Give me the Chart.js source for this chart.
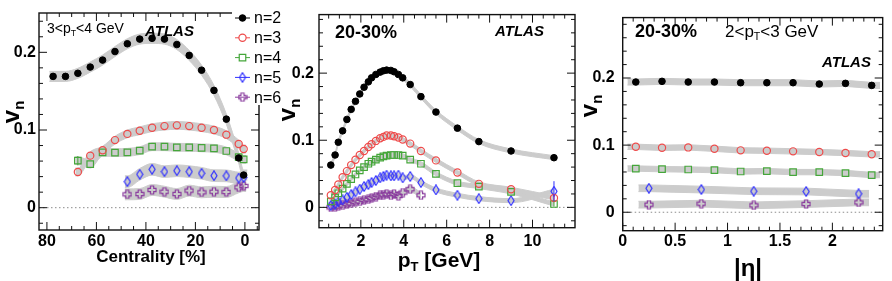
<!DOCTYPE html>
<html>
<head>
<meta charset="utf-8">
<script src="https://cdn.jsdelivr.net/npm/chart.js@4.4.1/dist/chart.umd.min.js"></script>
<style>
body { margin: 0; background: #fff; }
#wrap { position: relative; width: 892px; height: 281px; overflow: hidden; font-family: 'Liberation Sans', Arial, sans-serif; }
#wrap canvas { position: absolute; left: 0; top: 0; }
.t { position: absolute; white-space: nowrap; line-height: 1; color: #000; }
.t sub { font-size: 0.62em; vertical-align: baseline; position: relative; top: 0.32em; }
.b { font-weight: bold; }
.atlas { font-weight: bold; font-style: italic; font-size: 15px; }
.yt { font-weight: bold; font-size: 24px; transform: translate(-50%, -50%) rotate(-90deg); }
</style>
</head>
<body>
<div id="wrap">
  <canvas id="c1" width="892" height="281"></canvas>
  <canvas id="c2" width="892" height="281"></canvas>
  <canvas id="c3" width="892" height="281"></canvas>

  <div class="t" style="left:47px;top:21px;font-size:14px">3&lt;p<sub>T</sub>&lt;4 GeV</div>
  <div class="t atlas" style="left:145px;top:23px">ATLAS</div>
  <div class="t b" style="left:335px;top:23px;font-size:18px">20-30%</div>
  <div class="t atlas" style="left:495px;top:23px">ATLAS</div>
  <div class="t b" style="left:635px;top:22px;font-size:18px">20-30%</div>
  <div class="t" style="left:725px;top:23px;font-size:17px">2&lt;p<sub>T</sub>&lt;3 GeV</div>
  <div class="t atlas" style="left:822px;top:54px">ATLAS</div>

  <div class="t b" style="left:51px;width:200px;text-align:center;top:248px;font-size:17px">Centrality [%]</div>
  <div class="t b" style="left:339px;width:200px;text-align:center;top:249px;font-size:21px">p<sub>T</sub> [GeV]</div>
  <div class="t b" style="left:698px;width:100px;text-align:center;top:256px;font-size:24px">|η|</div>

  <div class="t yt" style="left:11px;top:112px">v<sub>n</sub></div>
  <div class="t yt" style="left:287px;top:110px">v<sub>n</sub></div>
  <div class="t yt" style="left:589px;top:106px">v<sub>n</sub></div>
</div>

<script>
// Panel 1: vn vs centrality, 3<pT<4 GeV
const cent = [77.5, 72.5, 67.5, 62.5, 57.5, 52.5, 47.5, 42.5, 37.5, 32.5, 27.5, 22.5, 17.5, 12.5, 7.5, 2.5, 0.5];
const centV2 = [0.169, 0.169, 0.173, 0.181, 0.19, 0.201, 0.211, 0.217, 0.218, 0.217, 0.21, 0.196, 0.177, 0.151, 0.114, 0.064, 0.042];
const centV3 = [0.046, 0.067, 0.074, 0.087, 0.095, 0.099, 0.103, 0.105, 0.106, 0.105, 0.103, 0.1, 0.094, 0.082, 0.0755];
const centV4 = [0.0605, 0.056, 0.0713, 0.071, 0.0713, 0.0734, 0.0785, 0.0785, 0.0777, 0.0777, 0.077, 0.0764, 0.073, 0.065, 0.0623];
const centV5 = [0.0335, 0.043, 0.0494, 0.0464, 0.0476, 0.0464, 0.0443, 0.0412, 0.041, 0.0382, 0.039];
const centV6 = [0.0172, 0.0176, 0.0228, 0.0206, 0.0176, 0.022, 0.0198, 0.0206, 0.0202, 0.0262, 0.028];
const centErr4 = { 67.5: 0.006 };

// Panel 2: vn vs pT, 20-30%
const pt = [0.6, 0.8, 0.95, 1.15, 1.35, 1.55, 1.75, 1.95, 2.15, 2.35, 2.5, 2.7, 2.9, 3.05, 3.2, 3.4, 3.55, 3.75, 3.95, 4.3, 4.8, 5.5, 6.5, 7.5, 9, 11];
const ptV2 = [0.063, 0.078, 0.097, 0.114, 0.131, 0.146, 0.158, 0.169, 0.179, 0.187, 0.193, 0.198, 0.2015, 0.2035, 0.2045, 0.204, 0.202, 0.198, 0.193, 0.183, 0.165, 0.142, 0.118, 0.098, 0.084, 0.074];
const ptV3 = [0.018, 0.026, 0.034, 0.045, 0.054, 0.063, 0.071, 0.078, 0.084, 0.09, 0.094, 0.099, 0.103, 0.105, 0.107, 0.107, 0.106, 0.104, 0.101, 0.095, 0.084, 0.07, 0.052, 0.035, 0.027, 0.014];
const ptV4 = [0.009, 0.015, 0.021, 0.028, 0.035, 0.042, 0.049, 0.055, 0.06, 0.065, 0.068, 0.071, 0.074, 0.076, 0.077, 0.078, 0.078, 0.078, 0.077, 0.071, 0.065, 0.05, 0.036, 0.031, 0.023, 0.005];
const ptV5 = [0.003, 0.005, 0.008, 0.011, 0.015, 0.019, 0.023, 0.027, 0.031, 0.034, 0.037, 0.04, 0.044, 0.046, 0.048, 0.047, 0.047, 0.048, 0.044, 0.046, 0.037, 0.026, 0.018, 0.013, 0.01, 0.024];
const ptV6 = [0.0, 0.001, 0.002, 0.003, 0.005, 0.006, 0.008, 0.009, 0.011, 0.012, 0.014, 0.016, 0.018, 0.019, 0.02, 0.018, 0.02, 0.017, 0.022, 0.027, 0.018];
const ptErr3 = { 11: 0.006 };
const ptErr4 = { 11: 0.004 };
const ptErr5 = { 11: 0.015 };

// Panel 3: vn vs |eta|, 20-30%, 2<pT<3 GeV
const eta = [0.125, 0.375, 0.625, 0.875, 1.125, 1.375, 1.625, 1.875, 2.125, 2.375];
const etaWide = [0.25, 0.75, 1.25, 1.75, 2.25];
const etaV2 = [0.194, 0.195, 0.194, 0.194, 0.193, 0.193, 0.193, 0.191, 0.192, 0.189];
const etaV3 = [0.0975, 0.096, 0.0966, 0.0946, 0.0922, 0.0916, 0.0907, 0.0897, 0.0882, 0.0863];
const etaV4 = [0.0651, 0.0642, 0.0637, 0.0628, 0.0607, 0.0613, 0.0598, 0.0598, 0.0584, 0.0554];
const etaV5 = [0.0357, 0.0338, 0.0313, 0.0309, 0.0275];
const etaV6 = [0.0113, 0.0128, 0.0103, 0.0122, 0.0147];

const legendLabels = ['n=2', 'n=3', 'n=4', 'n=5', 'n=6'];

const FONT = "'Liberation Sans', Arial, sans-serif";
const BAND = '#cccccc';

// open marker images (narrow diamond, open cross)
function diamondImg(color) {
  const c = document.createElement('canvas');
  c.width = 8; c.height = 11;
  const g = c.getContext('2d');
  g.strokeStyle = color; g.lineWidth = 1.2;
  g.beginPath();
  g.moveTo(4, 0.8); g.lineTo(7, 5.5); g.lineTo(4, 10.2); g.lineTo(1, 5.5);
  g.closePath(); g.stroke();
  return c;
}
function crossImg(color) {
  const c = document.createElement('canvas');
  c.width = 10; c.height = 10;
  const g = c.getContext('2d');
  g.strokeStyle = color; g.lineWidth = 1.2;
  const a = 1, b = 3.4, d = 6.6, e = 9;
  g.beginPath();
  g.moveTo(b, a); g.lineTo(d, a); g.lineTo(d, b); g.lineTo(e, b); g.lineTo(e, d); g.lineTo(d, d);
  g.lineTo(d, e); g.lineTo(b, e); g.lineTo(b, d); g.lineTo(a, d); g.lineTo(a, b); g.lineTo(b, b);
  g.closePath(); g.stroke();
  return c;
}

const styles = {
  2: { color: '#000000', pointStyle: 'circle', radius: 3.3, bg: '#000000', bw: 1 },
  3: { color: '#ee4b4b', pointStyle: 'circle', radius: 3.6, bg: 'rgba(0,0,0,0)', bw: 1.2 },
  4: { color: '#45a63a', pointStyle: 'rect', radius: 4.6, bg: 'rgba(0,0,0,0)', bw: 1.2 },
  5: { color: '#2f2fff', pointStyle: diamondImg('#2f2fff'), radius: 4, bg: 'rgba(0,0,0,0)', bw: 1.2 },
  6: { color: '#8a3d9e', pointStyle: crossImg('#8a3d9e'), radius: 4, bg: 'rgba(0,0,0,0)', bw: 1.2 }
};

const zip = (xs, ys) => ys.map((v, i) => ({ x: xs[i], y: v }));

function markers(n, xs, ys, errs) {
  const s = styles[n];
  return {
    data: zip(xs, ys), showLine: false, order: 0,
    pointStyle: s.pointStyle, pointRadius: s.radius,
    pointBackgroundColor: s.bg, pointBorderColor: s.color, pointBorderWidth: s.bw,
    borderColor: s.color, errs: errs
  };
}

function band(xs, ys, half, ext, smooth) {
  let bx = xs.slice(), by = ys.slice();
  if (ext) {
    const s0 = Math.sign(xs[0] - xs[1]);
    const k = xs.length - 1;
    bx = [xs[0] + s0 * ext, ...xs, xs[k] - s0 * ext];
    by = [ys[0], ...ys, ys[k]];
  }
  const common = {
    showLine: true, pointRadius: 0, borderColor: BAND, borderWidth: 1, order: 5,
    tension: smooth ? 0.4 : 0, cubicInterpolationMode: smooth ? 'monotone' : 'default'
  };
  return [
    Object.assign({ data: zip(bx, by.map(v => v - half)), fill: false }, common),
    Object.assign({ data: zip(bx, by.map(v => v + half)), fill: '-1', backgroundColor: BAND }, common)
  ];
}

// frame, inside ticks and dotted zero line
const rootFrame = {
  id: 'rootFrame',
  beforeDatasetsDraw(chart) {
    const { ctx, chartArea: a } = chart;
    const y0 = chart.scales.y.getPixelForValue(0);
    ctx.save();
    ctx.strokeStyle = '#8c8c8c'; ctx.lineWidth = 1; ctx.setLineDash([1.5, 2.5]);
    ctx.beginPath(); ctx.moveTo(a.left, y0); ctx.lineTo(a.right, y0); ctx.stroke();
    ctx.restore();
  },
  afterDraw(chart, args, o) {
    const { ctx, chartArea: a, scales: { x, y } } = chart;
    const marks = (scale, minor, major) => {
      const lo = Math.min(scale.min, scale.max), hi = Math.max(scale.min, scale.max);
      const out = [];
      for (let k = Math.ceil(lo / minor - 1e-6); k * minor <= hi + 1e-9; k++) {
        const v = k * minor;
        const isMajor = Math.abs(v / major - Math.round(v / major)) < 1e-6;
        out.push([scale.getPixelForValue(v), isMajor ? 8 : 4]);
      }
      return out;
    };
    ctx.save();
    ctx.strokeStyle = '#111'; ctx.lineWidth = 1;
    ctx.beginPath();
    marks(x, o.xMinor, o.xMajor).forEach(([p, len]) => {
      ctx.moveTo(p, a.bottom); ctx.lineTo(p, a.bottom - len);
      ctx.moveTo(p, a.top); ctx.lineTo(p, a.top + len);
    });
    marks(y, o.yMinor, o.yMajor).forEach(([p, len]) => {
      ctx.moveTo(a.left, p); ctx.lineTo(a.left + len, p);
      ctx.moveTo(a.right, p); ctx.lineTo(a.right - len, p);
    });
    ctx.stroke();
    ctx.lineWidth = 1.4;
    ctx.strokeRect(a.left, a.top, a.right - a.left, a.bottom - a.top);
    ctx.restore();
  }
};

const errBars = {
  id: 'errBars',
  afterDatasetsDraw(chart) {
    const ctx = chart.ctx, ys = chart.scales.y;
    chart.data.datasets.forEach((ds, i) => {
      if (!ds.errs) return;
      const meta = chart.getDatasetMeta(i);
      ctx.save();
      ctx.strokeStyle = ds.borderColor; ctx.lineWidth = 1;
      ds.data.forEach((p, j) => {
        const e = ds.errs[p.x];
        if (!e) return;
        const px = meta.data[j].x;
        ctx.beginPath();
        ctx.moveTo(px, ys.getPixelForValue(p.y + e));
        ctx.lineTo(px, ys.getPixelForValue(p.y - e));
        ctx.stroke();
      });
      ctx.restore();
    });
  }
};

function drawMarker(ctx, s, x, y) {
  if (typeof s.pointStyle === 'object') {
    ctx.drawImage(s.pointStyle, x - s.pointStyle.width / 2, y - s.pointStyle.height / 2);
    return;
  }
  ctx.beginPath();
  if (s.pointStyle === 'circle') ctx.arc(x, y, s.radius, 0, Math.PI * 2);
  else { const h = s.radius * Math.SQRT1_2; ctx.rect(x - h, y - h, 2 * h, 2 * h); }
  ctx.fillStyle = s.pointStyle === 'circle' && s.bg === '#000000' ? '#000' : '#fff';
  ctx.fill();
  ctx.strokeStyle = s.color; ctx.lineWidth = s.bw;
  ctx.stroke();
}

const legendBox = {
  id: 'legendBox',
  afterDraw(chart) {
    const ctx = chart.ctx;
    ctx.save();
    ctx.fillStyle = '#fff';
    ctx.fillRect(232, 3, 54, 102);
    legendLabels.forEach((lab, i) => {
      const s = styles[i + 2];
      const y = 18 + i * 19.8;
      ctx.strokeStyle = s.color; ctx.lineWidth = 1;
      ctx.beginPath(); ctx.moveTo(235, y); ctx.lineTo(250, y); ctx.stroke();
      drawMarker(ctx, s, 242.5, y);
      ctx.fillStyle = '#000';
      ctx.font = '16px ' + FONT;
      ctx.textBaseline = 'middle';
      ctx.fillText(lab, 254, y + 1);
    });
    ctx.restore();
  }
};

function makePanel(id, p) {
  const tickFont = { family: FONT, size: 16, weight: 'bold' };
  return new Chart(document.getElementById(id), {
    type: 'line',
    data: { datasets: p.datasets },
    options: {
      responsive: false, animation: false, events: [],
      layout: { padding: p.pad },
      plugins: {
        legend: { display: false }, tooltip: { enabled: false },
        rootFrame: p.frame
      },
      scales: {
        x: {
          type: 'linear', reverse: !!p.reverse, min: p.x[0], max: p.x[1],
          afterFit: s => { s.height = 20; },
          grid: { display: false, drawTicks: false }, border: { display: false },
          ticks: {
            stepSize: p.x[2], includeBounds: false, padding: p.xpad, autoSkip: false, maxRotation: 0,
            color: '#000', font: tickFont, callback: v => String(+v.toFixed(2))
          }
        },
        y: {
          type: 'linear', min: p.y[0], max: p.y[1],
          afterFit: s => { s.width = 38; },
          grid: { display: false, drawTicks: false }, border: { display: false },
          ticks: {
            stepSize: 0.1, includeBounds: false, padding: p.ypad, autoSkip: false,
            color: '#000', font: tickFont, callback: v => Math.abs(v) < 1e-9 ? '0' : v.toFixed(1)
          }
        }
      }
    },
    plugins: [rootFrame, errBars].concat(p.extra || [])
  });
}

// panel 1
makePanel('c1', {
  pad: { left: 1, top: 13, right: 633, bottom: 31 },
  x: [-5.7, 83.2, 20], y: [-0.0287, 0.2506], reverse: true, xpad: 2, ypad: 3,
  frame: { xMinor: 5, xMajor: 20, yMinor: 0.02, yMajor: 0.1 },
  extra: [legendBox],
  datasets: [
    ...band(cent, centV2, 0.0065, 1.5, true),
    ...band(cent.slice(2), centV3, 0.005, 1, true),
    ...band(cent.slice(2), centV4, 0.005, 1, true),
    ...band(cent.slice(6), centV5, 0.0075, 1, true),
    ...band(cent.slice(6), centV6, 0.007, 1, true),
    markers(2, cent, centV2),
    markers(3, cent.slice(2), centV3),
    markers(4, cent.slice(2), centV4, centErr4),
    markers(5, cent.slice(6), centV5),
    markers(6, cent.slice(6), centV6)
  ]
});

// panel 2
makePanel('c2', {
  pad: { left: 281, top: 14, right: 317, bottom: 33.3 },
  x: [0.05, 11.98, 2], y: [-0.0303, 0.2872], xpad: 4, ypad: 5,
  frame: { xMinor: 0.5, xMajor: 2, yMinor: 0.02, yMajor: 0.1 },
  datasets: [
    ...band(pt, ptV2, 0.003, 0, true),
    ...band(pt, ptV3, 0.003, 0, true),
    ...band(pt, ptV4, 0.003, 0, true),
    ...band(pt, ptV5, 0.003, 0, true),
    ...band(pt.slice(0, ptV6.length), ptV6, 0.004, 0, true),
    markers(2, pt, ptV2),
    markers(3, pt, ptV3, ptErr3),
    markers(4, pt, ptV4, ptErr4),
    markers(5, pt, ptV5, ptErr5),
    markers(6, pt.slice(0, ptV6.length), ptV6)
  ]
});

// panel 3
makePanel('c3', {
  pad: { left: 584.7, top: 14.7, right: 9.3, bottom: 30.3 },
  x: [0, 2.48, 0.5], y: [-0.0275, 0.29], xpad: 1.5, ypad: 8,
  frame: { xMinor: 0.1, xMajor: 0.5, yMinor: 0.02, yMajor: 0.1 },
  datasets: [
    ...band(eta, etaV2, 0.0045, 0.08, false),
    ...band(eta, etaV3, 0.004, 0.08, false),
    ...band(eta, etaV4, 0.004, 0.08, false),
    ...band(etaWide, etaV5, 0.005, 0.1, false),
    ...band(etaWide, etaV6, 0.005, 0.1, false),
    markers(2, eta, etaV2),
    markers(3, eta, etaV3),
    markers(4, eta, etaV4),
    markers(5, etaWide, etaV5),
    markers(6, etaWide, etaV6)
  ]
});
</script>
</body>
</html>
